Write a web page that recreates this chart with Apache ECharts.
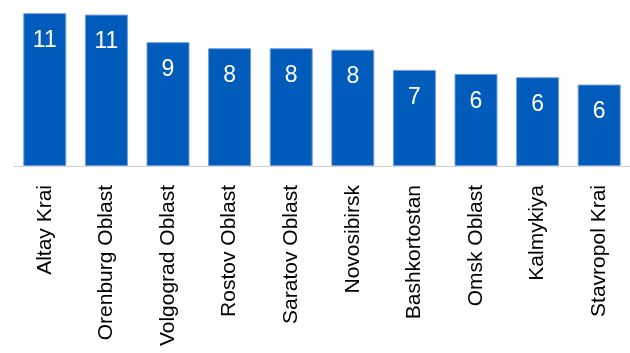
<!DOCTYPE html>
<html>
<head>
    <meta charset="UTF-8">
    <title>Regions</title>
    <style type="text/css">
        body, html{width: 100%;height: 100%;margin:0;background:#fff;}
        #main {width: 630px; height: 353px;}
    </style>
    <script src="https://cdn.jsdelivr.net/npm/echarts@6/dist/echarts.min.js"></script>
</head>
<body>
<div id="main"></div>
<script type="text/javascript">
    // 数据
    var regions = ['Altay Krai', 'Orenburg Oblast', 'Volgograd Oblast', 'Rostov Oblast', 'Saratov Oblast',
        'Novosibirsk', 'Bashkortostan', 'Omsk Oblast', 'Kalmykiya', 'Stavropol Krai'];
    var values = [10.64, 10.54, 8.62, 8.2, 8.2, 8.1, 6.69, 6.41, 6.18, 5.67];

    var myChart = echarts.init(document.getElementById('main'), null, {renderer: 'canvas'});
    var option = {
        animation: false,
        grid: {left: 14, width: 622, top: 8, bottom: 187},
        xAxis: {
            type: 'category',
            data: regions,
            axisLine: {lineStyle: {color: '#d0d0d0', width: 1}},
            axisTick: {length: 7, lineStyle: {color: '#d0d0d0'}},
            axisLabel: {
                rotate: 90,
                margin: 19,
                color: '#000',
                fontSize: 21,
                fontFamily: 'Liberation Sans, Arial, sans-serif',
                interval: 0
            }
        },
        yAxis: {
            type: 'value',
            min: 0,
            max: 11,
            show: false,
            splitLine: {show: false}
        },
        series: [{
            type: 'bar',
            data: values,
            barWidth: 43,
            itemStyle: {color: '#005bbb', borderColor: '#6f9fd8', borderWidth: 1},
            label: {
                show: true,
                position: 'insideTop',
                distance: 16,
                color: '#fff',
                fontSize: 23,
                fontFamily: 'Liberation Sans, Arial, sans-serif',
                formatter: function (p) {
                    return Math.round(p.value);
                }
            }
        }]
    };
    myChart.setOption(option);
</script>
</body>
</html>
